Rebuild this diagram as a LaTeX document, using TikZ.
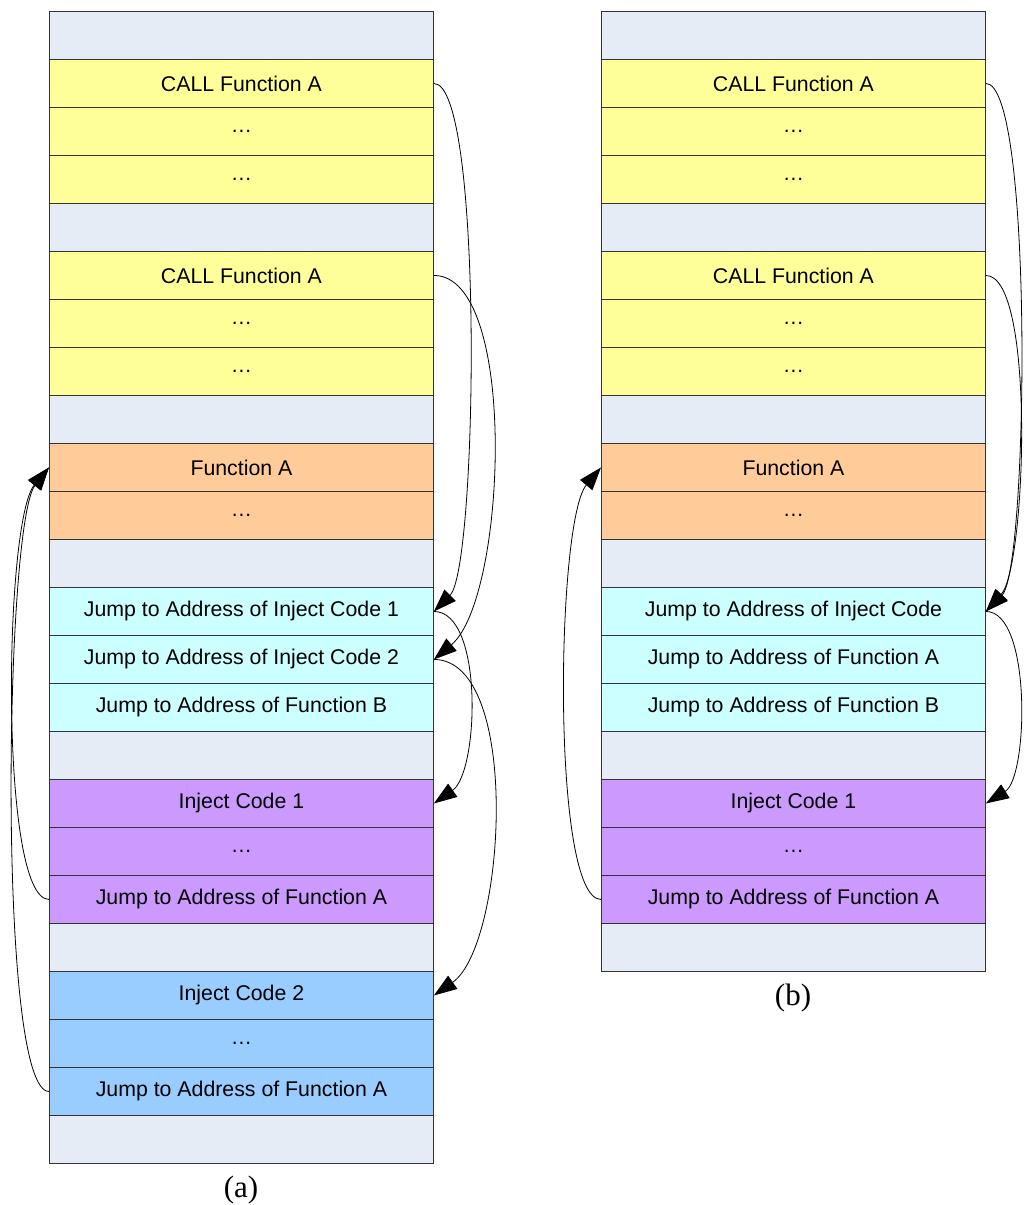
\documentclass[tikz,border=0pt]{standalone}
\usepackage{fontspec}
\setmainfont{Liberation Sans}
\newfontfamily\capfont{Liberation Serif}
\usetikzlibrary{arrows.meta}
\definecolor{memgrey}{HTML}{E6ECF5}
\definecolor{memyellow}{HTML}{FFFF99}
\definecolor{memorange}{HTML}{FFCC99}
\definecolor{memcyan}{HTML}{CCFFFF}
\definecolor{mempurple}{HTML}{CC99FF}
\definecolor{memblue}{HTML}{99CCFF}
\definecolor{cellline}{HTML}{333333}
\begin{document}
\begin{tikzpicture}[x=1pt,y=1pt,
  cell/.style={draw=cellline, line width=0.9pt, minimum width=384pt,
    minimum height=48pt, inner sep=0pt, anchor=north west,
    font=\fontsize{21.3}{25}\selectfont},
  link/.style={-{Triangle[length=23pt,width=16pt]}, line width=0.8pt, black},
  caption/.style={font=\capfont\fontsize{31}{31}\selectfont}]
\useasboundingbox (0,0) rectangle (1024,-1205);

% memory layout (a)
\foreach \i/\c/\t in {
  0/memgrey/{}, 1/memyellow/{CALL Function A}, 2/memyellow/{…}, 3/memyellow/{…},
  4/memgrey/{}, 5/memyellow/{CALL Function A}, 6/memyellow/{…}, 7/memyellow/{…},
  8/memgrey/{}, 9/memorange/{Function A}, 10/memorange/{…},
  11/memgrey/{}, 12/memcyan/{Jump to Address of Inject Code 1},
  13/memcyan/{Jump to Address of Inject Code 2},
  14/memcyan/{Jump to Address of Function B},
  15/memgrey/{}, 16/mempurple/{Inject Code 1}, 17/mempurple/{…},
  18/mempurple/{Jump to Address of Function A},
  19/memgrey/{}, 20/memblue/{Inject Code 2}, 21/memblue/{…},
  22/memblue/{Jump to Address of Function A}, 23/memgrey/{}}
  \node[cell, fill=\c] (a\i) at (49,{-11-48*\i}) {\t};

% memory layout (b)
\foreach \i/\c/\t in {
  0/memgrey/{}, 1/memyellow/{CALL Function A}, 2/memyellow/{…}, 3/memyellow/{…},
  4/memgrey/{}, 5/memyellow/{CALL Function A}, 6/memyellow/{…}, 7/memyellow/{…},
  8/memgrey/{}, 9/memorange/{Function A}, 10/memorange/{…},
  11/memgrey/{}, 12/memcyan/{Jump to Address of Inject Code},
  13/memcyan/{Jump to Address of Function A},
  14/memcyan/{Jump to Address of Function B},
  15/memgrey/{}, 16/mempurple/{Inject Code 1}, 17/mempurple/{…},
  18/mempurple/{Jump to Address of Function A}, 19/memgrey/{}}
  \node[cell, fill=\c] (b\i) at (601,{-11-48*\i}) {\t};

\node[caption] (capa) at (241,-1190) {(a)};
\node[caption] (capb) at (793,-998) {(b)};

% control flow (a)
\draw[link] (a1.east)  to[out=0, in=45, out distance=50, in distance=62] (a12.east);
\draw[link] (a5.east)  to[out=0, in=40, out distance=85, in distance=95] (a13.east);
\draw[link] (a12.east) to[out=0, in=35, out distance=50, in distance=55] (a16.east);
\draw[link] (a13.east) to[out=0, in=35, out distance=88, in distance=88] (a20.east);
\draw[link] (a18.west) to[out=180, in=-130, out distance=50, in distance=70] (a9.west);
\draw[link] (a22.west) to[out=180, in=-128, out distance=52, in distance=72] (a9.west);

% control flow (b)
\draw[link] (b1.east)  to[out=0, in=45, out distance=48, in distance=60] (b12.east);
\draw[link] (b5.east)  to[out=0, in=48, out distance=50, in distance=60] (b12.east);
\draw[link] (b12.east) to[out=0, in=32, out distance=46, in distance=50] (b16.east);
\draw[link] (b18.west) to[out=180, in=-130, out distance=50, in distance=70] (b9.west);
\end{tikzpicture}
\end{document}
